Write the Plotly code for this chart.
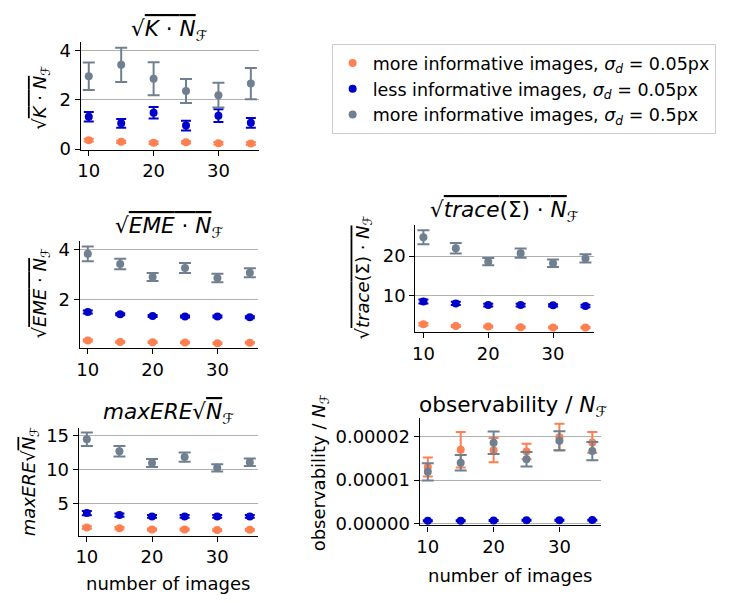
import plotly.graph_objects as go

W, H = 729, 603

n_images = [10, 15, 20, 25, 30, 35]

# sqrt(K * N_F)
k_more = [0.36, 0.29, 0.25, 0.27, 0.23, 0.22]
k_more_err = [0.06, 0.05, 0.05, 0.05, 0.05, 0.05]
k_less = [1.31, 1.04, 1.47, 0.95, 1.35, 1.06]
k_less_err = [0.19, 0.18, 0.23, 0.20, 0.26, 0.20]
k_noisy = [2.95, 3.41, 2.85, 2.35, 2.18, 2.65]
k_noisy_err = [0.56, 0.69, 0.67, 0.49, 0.50, 0.63]

# sqrt(EME * N_F)
eme_more = [0.38, 0.32, 0.31, 0.30, 0.27, 0.29]
eme_more_err = [0.04, 0.03, 0.03, 0.03, 0.03, 0.03]
eme_less = [1.52, 1.43, 1.36, 1.34, 1.34, 1.31]
eme_less_err = [0.06, 0.04, 0.04, 0.04, 0.04, 0.04]
eme_noisy = [3.83, 3.43, 2.91, 3.27, 2.87, 3.08]
eme_noisy_err = [0.29, 0.21, 0.16, 0.20, 0.17, 0.18]

# maxERE * sqrt(N_F)
maxere_more = [1.40, 1.30, 1.11, 1.11, 1.01, 1.06]
maxere_more_err = [0.20, 0.18, 0.15, 0.15, 0.13, 0.13]
maxere_less = [3.53, 3.24, 3.04, 3.04, 3.04, 3.04]
maxere_less_err = [0.30, 0.25, 0.20, 0.20, 0.20, 0.20]
maxere_noisy = [14.49, 12.70, 10.97, 11.84, 10.24, 11.06]
maxere_noisy_err = [1.00, 0.78, 0.60, 0.68, 0.55, 0.55]

# sqrt(trace(Sigma) * N_F)
trace_more = [2.58, 2.17, 2.00, 1.83, 1.75, 1.75]
trace_more_err = [0.30, 0.25, 0.22, 0.20, 0.20, 0.20]
trace_less = [8.42, 7.92, 7.50, 7.50, 7.42, 7.25]
trace_less_err = [0.50, 0.40, 0.35, 0.35, 0.30, 0.30]
trace_noisy = [24.83, 22.00, 18.58, 20.75, 18.17, 19.42]
trace_noisy_err = [1.80, 1.33, 0.92, 1.17, 0.95, 1.08]

# observability / N_F
obs_more = [1.30e-5, 1.70e-5, 1.69e-5, 1.66e-5, 1.99e-5, 1.87e-5]
obs_more_err = [0.22e-5, 0.41e-5, 0.28e-5, 0.18e-5, 0.31e-5, 0.24e-5]
obs_less = [0.060e-5, 0.060e-5, 0.065e-5, 0.070e-5, 0.070e-5, 0.075e-5]
obs_less_err = [0.010e-5, 0.010e-5, 0.010e-5, 0.010e-5, 0.010e-5, 0.010e-5]
obs_noisy = [1.19e-5, 1.40e-5, 1.86e-5, 1.48e-5, 1.91e-5, 1.67e-5]
obs_noisy_err = [0.20e-5, 0.18e-5, 0.26e-5, 0.17e-5, 0.22e-5, 0.21e-5]

series_names = [
    "more informative images, <i>σ<sub>d</sub></i> = 0.05px",
    "less informative images, <i>σ<sub>d</sub></i> = 0.05px",
    "more informative images, <i>σ<sub>d</sub></i> = 0.5px",
]
series_colors = ["#FF7F50", "#0000CD", "#708090"]

OV = "<span style='text-decoration:overline'>"
NF = "<i>N</i></span><sub>ℱ</sub>"
panel_titles = [
    "√" + OV + "<i>K</i> · " + NF,
    "√" + OV + "<i>EME</i> · " + NF,
    "<i>maxERE</i>√" + OV + NF,
    "√" + OV + "<i>trace</i>(Σ) · " + NF,
    "observability / <i>N</i><sub>ℱ</sub>",
]
panel_ylabels = list(panel_titles)

panel_data = [
    [(k_more, k_more_err), (k_less, k_less_err), (k_noisy, k_noisy_err)],
    [(eme_more, eme_more_err), (eme_less, eme_less_err), (eme_noisy, eme_noisy_err)],
    [(maxere_more, maxere_more_err), (maxere_less, maxere_less_err), (maxere_noisy, maxere_noisy_err)],
    [(trace_more, trace_more_err), (trace_less, trace_less_err), (trace_noisy, trace_noisy_err)],
    [(obs_more, obs_more_err), (obs_less, obs_less_err), (obs_noisy, obs_noisy_err)],
]

# pixel boxes (left, right, top, bottom)
boxes = [
    (78, 257, 40, 150),
    (77, 256, 243.3, 352.7),
    (76, 256, 434.3, 544.3),
    (414, 593, 226.7, 336.7),
    (418.3, 600, 424.3, 534),
]
yranges = [(-0.03, 4.33), (0.08, 4.34), (0.2, 16.16), (0.5, 28), (-0.05e-5, 2.43e-5)]
yticks = [[0, 2, 4], [2, 4], [5, 10, 15], [10, 20], [0, 1e-5, 2e-5]]
yformats = ["", "", "", "", ".5f"]

title_pos = [(167, 28), (167, 229), (166, 420), (504, 213), (512, 412)]
ylabel_pos = [(38, 97), (38, 297), (28, 489), (362, 281), (318, 480)]
xlabel_pos = {2: (166, 593), 4: (510, 585)}
cap_widths = [5, 5, 6]

FONT = "DejaVu Sans"
fig = go.Figure()
layout = dict(
    width=W, height=H, margin=dict(l=0, r=0, t=0, b=0),
    paper_bgcolor="white", plot_bgcolor="white",
    font=dict(family=FONT, size=18, color="black"),
    showlegend=True,
    legend=dict(x=330 / W, y=1 - 42 / H, xanchor="left", yanchor="top",
                bordercolor="#cccccc", borderwidth=1, bgcolor="white",
                tracegroupgap=0, font=dict(size=17.5, family=FONT)),
)
annotations = []


def px(x):
    return x / W


def py(y):
    return 1 - y / H


for i in range(5):
    sfx = "" if i == 0 else str(i + 1)
    l, r, t, b = boxes[i]
    layout["xaxis" + sfx] = dict(
        domain=[px(l), px(r)], range=[8.75, 36.25], anchor="y" + sfx,
        tickvals=[10, 20, 30], ticks="outside", ticklen=5, tickwidth=1.1,
        tickcolor="black", showline=True, linecolor="black", linewidth=1.1,
        showgrid=False, zeroline=False, tickfont=dict(size=18),
    )
    layout["yaxis" + sfx] = dict(
        domain=[py(b), py(t)], range=list(yranges[i]), anchor="x" + sfx,
        tickvals=yticks[i], tickformat=yformats[i], ticks="outside", ticklen=5,
        tickwidth=1.1, tickcolor="black", showline=True, linecolor="black",
        linewidth=1.1, showgrid=True, gridcolor="#b0b0b0", gridwidth=1.2,
        zeroline=False, tickfont=dict(size=18),
    )
    for j, (vals, errs) in enumerate(panel_data[i]):
        fig.add_trace(go.Scatter(
            x=n_images, y=vals, mode="markers",
            marker=dict(color=series_colors[j], size=8),
            error_y=dict(type="data", array=errs, visible=True,
                         color=series_colors[j], thickness=2, width=cap_widths[j]),
            name=series_names[j], showlegend=(i == 0),
            xaxis="x" + sfx, yaxis="y" + sfx,
        ))
    tx, ty = title_pos[i]
    annotations.append(dict(text=panel_titles[i], x=px(tx), y=py(ty), xref="paper",
                            yref="paper", showarrow=False, xanchor="center",
                            yanchor="middle", font=dict(size=21.6)))
    lx, ly = ylabel_pos[i]
    annotations.append(dict(text=panel_ylabels[i], x=px(lx), y=py(ly), xref="paper",
                            yref="paper", showarrow=False, xanchor="center",
                            yanchor="middle", textangle=-90, font=dict(size=18)))
    if i in xlabel_pos:
        xx, xy = xlabel_pos[i]
        annotations.append(dict(text="number of images", x=px(xx), y=py(xy),
                                xref="paper", yref="paper", showarrow=False,
                                xanchor="center", yanchor="middle",
                                font=dict(size=18)))

layout["annotations"] = annotations
fig.update_layout(**layout)
fig.write_html("out.html")
